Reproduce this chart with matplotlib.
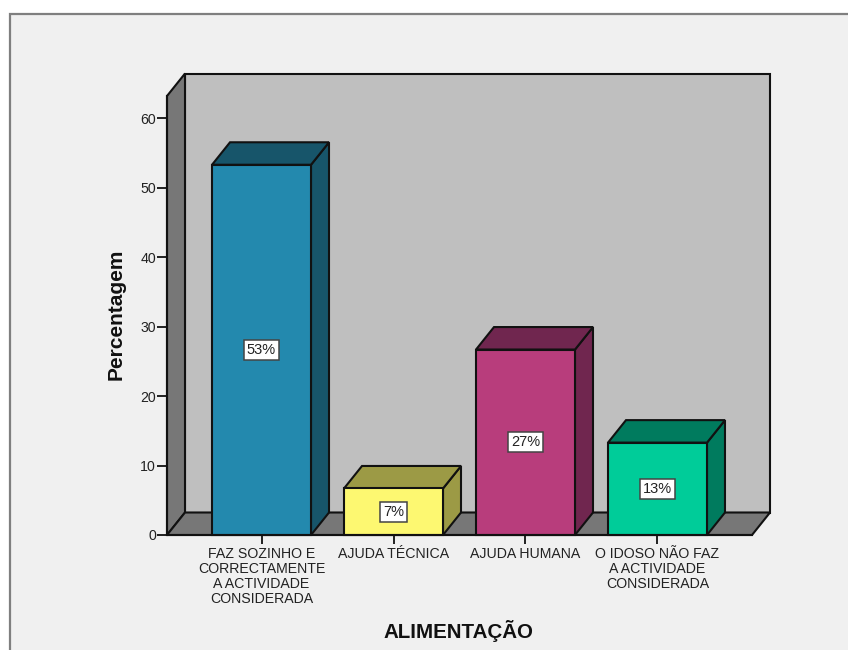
import matplotlib
matplotlib.use('Agg')
import matplotlib.pyplot as plt
from matplotlib.patches import Polygon, Rectangle

plt.rcParams['font.family'] = ['Liberation Sans', 'DejaVu Sans']

categories = ['FAZ SOZINHO E\nCORRECTAMENTE\nA ACTIVIDADE\nCONSIDERADA',
              'AJUDA TÉCNICA',
              'AJUDA HUMANA',
              'O IDOSO NÃO FAZ\nA ACTIVIDADE\nCONSIDERADA']
values = [53.3, 6.7, 26.7, 13.3]
value_labels = ['53%', '7%', '27%', '13%']
front_colors = ['#2389ae', '#fdf871', '#b83d7c', '#00cc99']
dark_colors = ['#17556a', '#9c9a45', '#70264f', '#007b5e']
y_ticks = [0, 10, 20, 30, 40, 50, 60]

W, H = 848, 650
LEFT, RIGHT, BOTTOM, TOP = 167, 752, 535, 96
BLACK = '#111111'
TEXT = '#222222'

xmin, xmax = -0.716, 3.716
ymax = 63.2
bar_w = 0.75
dx = 18 / 132
dy = 22.5 / 6.95
lw = 1.5

fig = plt.figure(figsize=(W / 100, H / 100), dpi=100, facecolor='white')
fig.add_artist(Rectangle((9.5 / W, -0.1), 1.1, 1.1 - 13.5 / H,
                         transform=fig.transFigure, facecolor='#f0f0f0',
                         edgecolor='#7f7f7f', linewidth=1.6, zorder=-1))

ax = fig.add_axes([LEFT / W, 1 - BOTTOM / H, (RIGHT - LEFT) / W, (BOTTOM - TOP) / H])
ax.set_xlim(xmin, xmax)
ax.set_ylim(0, ymax)
ax.patch.set_visible(False)


def face(points, color, z):
    ax.add_patch(Polygon(points, closed=True, facecolor=color, edgecolor=BLACK,
                         linewidth=lw, joinstyle='miter', clip_on=False, zorder=z))


# back wall, side wall, floor
face([(xmin + dx, dy), (xmax + dx, dy), (xmax + dx, ymax + dy), (xmin + dx, ymax + dy)], '#bfbfbf', 1)
face([(xmin, 0), (xmin + dx, dy), (xmin + dx, ymax + dy), (xmin, ymax)], '#777777', 1.1)
face([(xmin, 0), (xmax, 0), (xmax + dx, dy), (xmin + dx, dy)], '#777777', 1.1)

for i, v in enumerate(values):
    l, r = i - bar_w / 2, i + bar_w / 2
    z = 2 + i
    face([(r, 0), (r + dx, dy), (r + dx, v + dy), (r, v)], dark_colors[i], z)
    face([(l, v), (l + dx, v + dy), (r + dx, v + dy), (r, v)], dark_colors[i], z)
    ax.bar(i, v, width=bar_w, color=front_colors[i], edgecolor=BLACK,
           linewidth=lw, zorder=z + 0.1, clip_on=False)
    ax.text(i, v / 2, value_labels[i], ha='center', va='center', fontsize=10.5,
            color=TEXT, zorder=z + 0.2,
            bbox=dict(boxstyle='square,pad=0.2', facecolor='white',
                      edgecolor='#444444', linewidth=1.1))

for s in ['top', 'right']:
    ax.spines[s].set_visible(False)
for s in ['left', 'bottom']:
    ax.spines[s].set_linewidth(lw)
    ax.spines[s].set_color(BLACK)
    ax.spines[s].set_zorder(10)

ax.set_yticks(y_ticks)
ax.set_xticks(range(len(categories)))
ax.set_xticklabels(categories, fontsize=10.2, color=TEXT, linespacing=1.07, va='top')
ax.tick_params(axis='y', length=7, width=1.3, color=BLACK, labelsize=10.2,
               labelcolor=TEXT, pad=1)
ax.tick_params(axis='x', length=6.5, width=1.3, color=BLACK, pad=2.5)

fig.text(116 / W, 1 - 314 / H, 'Percentagem', rotation=90, ha='center', va='center',
         fontsize=15, fontweight='bold', color='#111111')
fig.text(458 / W, 1 - 631 / H, 'ALIMENTAÇÃO', ha='center', va='center',
         fontsize=14.8, fontweight='bold', color='#111111')

fig.savefig('out.png', dpi=100, facecolor='white')
